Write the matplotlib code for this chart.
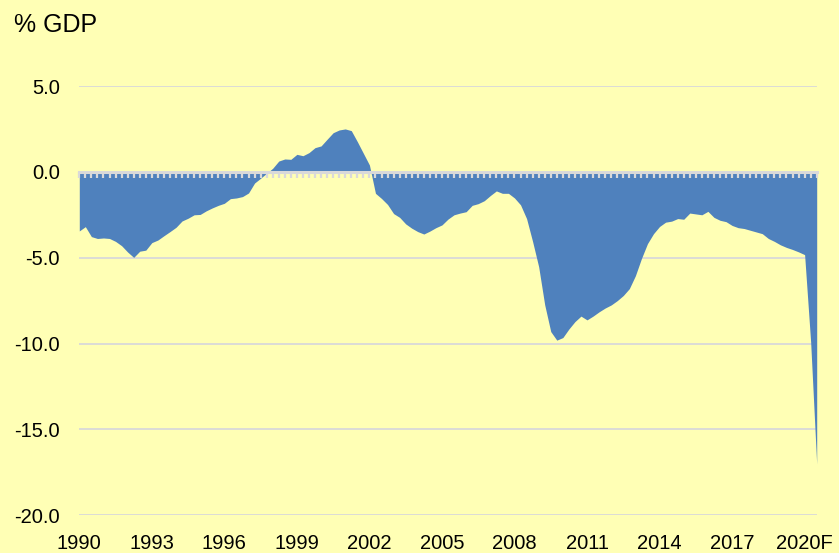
#!/usr/bin/env python3
"""
Quarterly budget balance (% of GDP), 1990 - 2020F, drawn as an area chart.
"""

import matplotlib
matplotlib.use('Agg')
import matplotlib.pyplot as plt
from matplotlib.ticker import MultipleLocator

# --- DATA (one value per quarter, 1990Q1 .. 2020Q3) ---

balance = [
    -3.44, -3.19, -3.77, -3.88, -3.85, -3.88, -4.05, -4.30, -4.67, -4.98,
    -4.62, -4.56, -4.12, -3.97, -3.72, -3.48, -3.23, -2.86, -2.70, -2.50,
    -2.48, -2.27, -2.10, -1.95, -1.83, -1.56, -1.52, -1.44, -1.23, -0.65,
    -0.37, -0.08, 0.21, 0.63, 0.75, 0.73, 1.02, 0.94, 1.12, 1.41,
    1.51, 1.90, 2.28, 2.44, 2.50, 2.40, 1.76, 1.08, 0.40, -1.25,
    -1.55, -1.90, -2.43, -2.65, -3.03, -3.28, -3.48, -3.62, -3.45, -3.25,
    -3.09, -2.75, -2.50, -2.40, -2.32, -1.95, -1.85, -1.68, -1.38, -1.11,
    -1.25, -1.25, -1.52, -1.92, -2.72, -4.06, -5.52, -7.74, -9.30, -9.80,
    -9.65, -9.15, -8.72, -8.40, -8.62, -8.40, -8.15, -7.93, -7.75, -7.50,
    -7.20, -6.80, -6.05, -5.05, -4.18, -3.60, -3.18, -2.93, -2.87, -2.72,
    -2.76, -2.40, -2.45, -2.50, -2.30, -2.65, -2.82, -2.90, -3.12, -3.25,
    -3.30, -3.40, -3.50, -3.60, -3.88, -4.05, -4.25, -4.40, -4.52, -4.66,
    -4.82, -9.90, -17.0,
]

tick_labels = ['1990', '1993', '1996', '1999', '2002', '2005',
               '2008', '2011', '2014', '2017', '2020F']
y_ticks = [-20, -15, -10, -5, 0, 5]

# --- STYLE ---

BG = '#ffffb5'
FILL = '#4f81bd'
GRID = '#d9d9d9'

plt.rcParams['font.family'] = ['Liberation Sans', 'DejaVu Sans']

fig = plt.figure(figsize=(8.39, 5.53), dpi=100, facecolor=BG)
ax = fig.add_axes([79.3 / 839, 1 - 515.3 / 553,
                   (816.7 - 79.3) / 839, (515.3 - 86) / 553])
ax.set_facecolor(BG)

x = list(range(len(balance)))
ax.fill_between(x, 0, balance, color=FILL, linewidth=0, zorder=2)

ax.set_xlim(0, len(balance) - 1)
ax.set_ylim(-20, 5)

# y axis: gridlines only
ax.set_yticks(y_ticks)
ax.set_yticklabels([f'{v:.1f}' for v in y_ticks])
ax.grid(axis='y', color=GRID, linewidth=1.3, zorder=1)
ax.set_axisbelow(True)

# x labels every 12 quarters, sitting under the plot
ax.set_xticks(range(0, 12 * len(tick_labels), 12))
ax.set_xticklabels(tick_labels)
ax.tick_params(axis='both', length=0, labelsize=14.5, colors='black')
ax.tick_params(axis='x', pad=13.5)
ax.tick_params(axis='y', pad=14)
for s in ax.spines.values():
    s.set_visible(False)

# category axis crossing at zero, with a tick per quarter (drawn over the fill)
zero_frac = (0 - (-20)) / 25
sec = ax.secondary_xaxis(zero_frac)
sec.set_zorder(5)
sec.set_alignment('bottom')
sec.xaxis.set_major_locator(MultipleLocator(1))
sec.tick_params(axis='x', direction='out', length=4, width=1.6,
                color=GRID, labelbottom=False, labeltop=False)
sec.spines['bottom'].set_color(GRID)
sec.spines['bottom'].set_linewidth(2.2)

fig.text(14 / 839, 1 - 31.5 / 553, '% GDP', fontsize=18,
         ha='left', va='baseline')

fig.savefig('out.png', dpi=100, facecolor=BG)
